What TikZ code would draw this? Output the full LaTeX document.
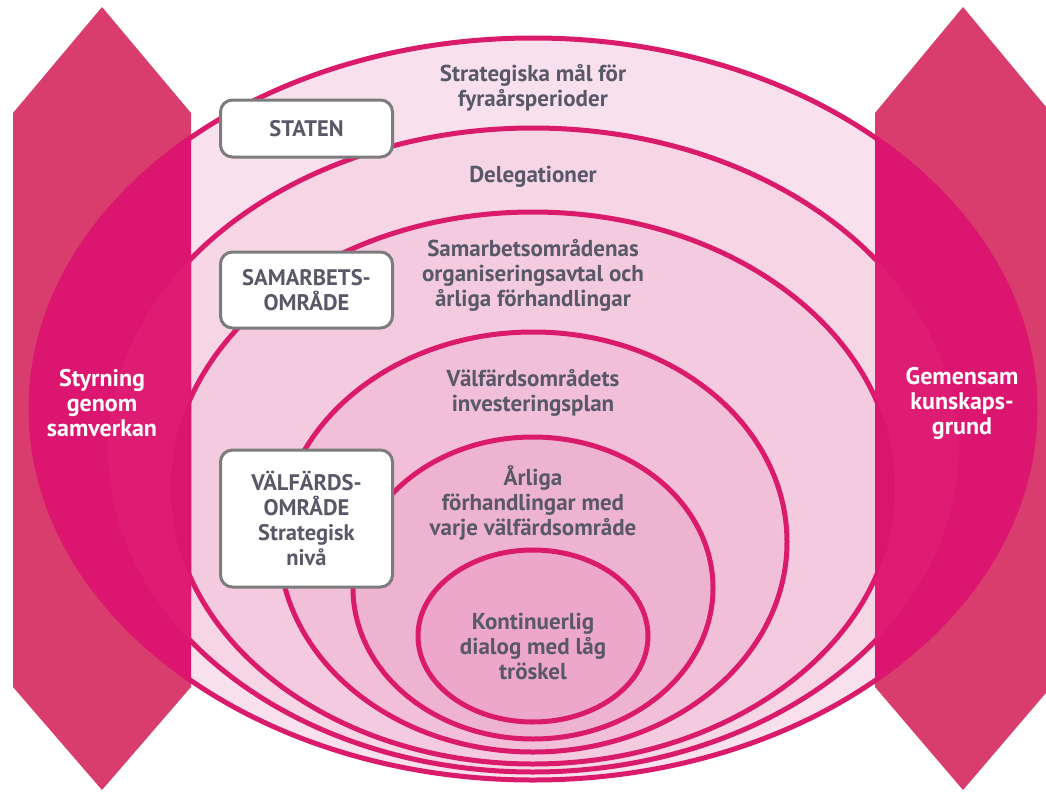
\documentclass[tikz,border=0pt]{standalone}
\usepackage{fontspec}
\setmainfont{PT Sans}
\definecolor{hexcol}{HTML}{D93D6E}
\definecolor{magA}{HTML}{DC1670}
\definecolor{magB}{HTML}{DE1C74}
\definecolor{magC}{HTML}{DA156E}
\definecolor{ringline}{HTML}{DA1A6B}
\definecolor{ringA}{HTML}{F8E1EC}
\definecolor{ringB}{HTML}{F6D6E5}
\definecolor{ringC}{HTML}{F3CADE}
\definecolor{ringD}{HTML}{F1BFD8}
\definecolor{ringE}{HTML}{EEB3D0}
\definecolor{ringF}{HTML}{ECA7CA}
\definecolor{txtgray}{HTML}{585868}
\definecolor{boxgray}{HTML}{7C7C7C}
\begin{document}
\begin{tikzpicture}[x=1pt,y=-1pt,
  ring/.style={draw=ringline, line width=5pt},
  lbl/.style={font=\bfseries\fontsize{23}{25}\selectfont, text=txtgray, align=center},
  sidelbl/.style={font=\bfseries\fontsize{24}{25}\selectfont, text=white, align=center},
  boxnode/.style={draw=boxgray, line width=3pt, fill=white, rounded corners=12pt,
    minimum width=172pt, inner sep=0pt, align=center, text=txtgray,
    font=\bfseries\fontsize{22.5}{25}\selectfont}]
\useasboundingbox (0,0) rectangle (1046,792);
\clip (0,0) rectangle (1046,792);
% side hexagons
\fill[hexcol] (13,113) -- (102,7) -- (191,113) -- (191,687) -- (102,790) -- (13,687) -- cycle;
\fill[hexcol] (875,113) -- (963,7) -- (1051,113) -- (1051,687) -- (963,790) -- (875,687) -- cycle;
% nested rings
\filldraw[ring, fill=ringA] (533,409) ellipse [x radius=502, y radius=371];
\filldraw[ring, fill=ringB] (533,450) ellipse [x radius=425, y radius=322];
\filldraw[ring, fill=ringC] (533,488) ellipse [x radius=362, y radius=276];
\filldraw[ring, fill=ringD] (533,542) ellipse [x radius=254, y radius=210];
\filldraw[ring, fill=ringE] (533,588) ellipse [x radius=180, y radius=151];
\filldraw[ring, fill=ringF] (533,636) ellipse [x radius=115, y radius=86];
% overlap of rings with the side hexagons
\begin{scope}
  \clip (13,113) -- (102,7) -- (191,113) -- (191,687) -- (102,790) -- (13,687) -- cycle;
  \fill[magA] (533,409) ellipse [x radius=504, y radius=373];
  \fill[magB] (533,450) ellipse [x radius=425, y radius=322];
  \fill[magC] (533,488) ellipse [x radius=362, y radius=276];
\end{scope}
\begin{scope}
  \clip (875,113) -- (963,7) -- (1051,113) -- (1051,687) -- (963,790) -- (875,687) -- cycle;
  \fill[magA] (533,409) ellipse [x radius=504, y radius=373];
  \fill[magB] (533,450) ellipse [x radius=425, y radius=322];
  \fill[magC] (533,488) ellipse [x radius=362, y radius=276];
\end{scope}
% ring labels
\node[lbl] (strat) at (533,88) {Strategiska mål för\\fyraårsperioder};
\node[lbl] (deleg) at (533,177) {Delegationer};
\node[lbl] (samarb) at (533,275) {Samarbetsområdenas\\organiseringsavtal och\\årliga förhandlingar};
\node[lbl] (invest) at (533,393) {Välfärdsområdets\\investeringsplan};
\node[lbl] (arliga) at (533,503) {Årliga\\förhandlingar med\\varje välfärdsområde};
\node[lbl] (kontin) at (533,646) {Kontinuerlig\\dialog med låg\\tröskel};
% side labels
\node[sidelbl] (styr) at (102,403) {Styrning\\genom\\samverkan};
\node[sidelbl] (gemen) at (962,403) {Gemensam\\kunskaps-\\grund};
% level boxes
\node[boxnode, minimum height=57pt] (staten) at (306.5,128.5) {STATEN};
\node[boxnode, minimum height=76pt] (samomr) at (306.5,290) {SAMARBETS-\\OMRÅDE};
\node[boxnode, minimum height=137pt] (valomr) at (306.5,518.5) {VÄLFÄRDS-\\OMRÅDE\\Strategisk\\nivå};
\end{tikzpicture}
\end{document}
